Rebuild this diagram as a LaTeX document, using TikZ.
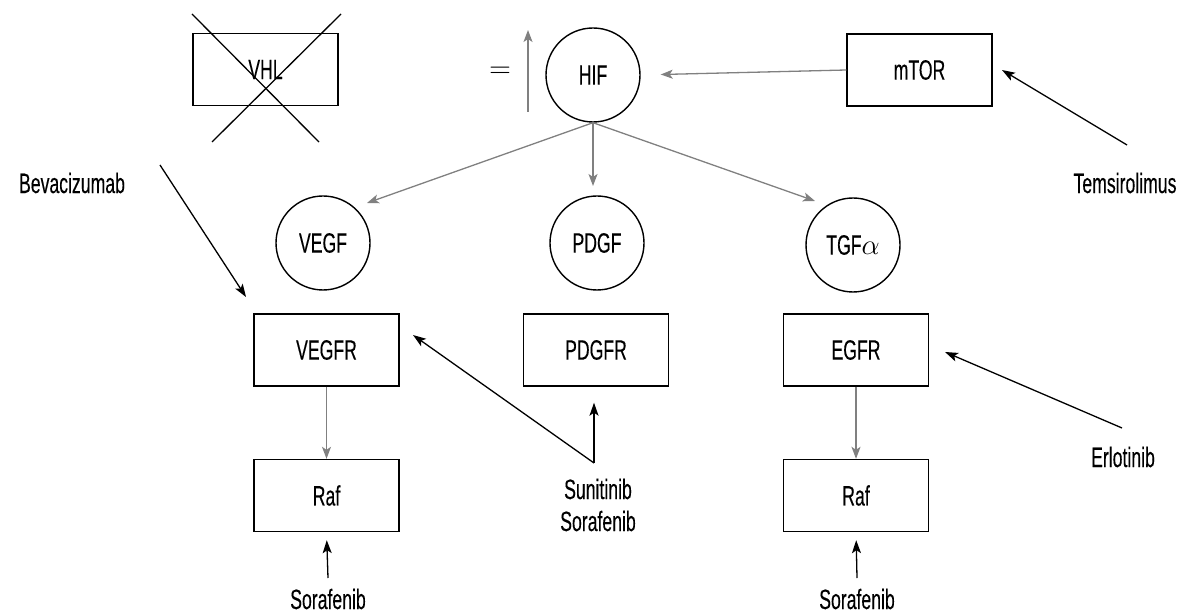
\documentclass[tikz,border=0pt]{standalone}
\usepackage{fontspec}
\setmainfont{Liberation Sans}[FakeStretch=0.63, FakeBold=0.2]
\usetikzlibrary{arrows.meta}

\tikzset{
  mol/.style = {
    circle,                          % ligand / factor
    draw          = black,           % border
    line width    = .7pt,            % border width
    minimum size  = 47pt,            % circle diameter
    inner sep     = 1pt,             %
    font          = \fontsize{14}{16}\selectfont,
    text          = black,
    fill          = white,
  },
  rcpt/.style = {
    rectangle,                       % receptor / kinase
    draw          = black,
    line width    = .7pt,
    minimum width = 72.5pt,
    minimum height= 36pt,
    inner sep     = 1pt,
    font          = \fontsize{14}{16}\selectfont,
    text          = black,
  },
  drug/.style = {
    inner sep     = 1pt,
    font          = \fontsize{14}{16}\selectfont,
    align         = center,
  },
  signal/.style  = {draw=gray, line width=.65pt, -{Stealth[length=6pt,width=4.5pt,inset=1.5pt]}},
  inhibit/.style = {draw=black, line width=.65pt, -{Stealth[length=6.5pt,width=4.5pt,inset=1.5pt]}},
}

\begin{document}
\begin{tikzpicture}[x=.5pt, y=-.5pt]
\useasboundingbox (0,0) rectangle (1181,614);

% top row
\node at (265.5, 69.5) [rcpt] (vhl)  {VHL};
\draw [line width=.65pt] (192,14) -- (319,142);
\draw [line width=.65pt] (341,14) -- (212,142);
\node at (500, 72) [inner sep=0pt, font=\fontsize{14}{14}\selectfont] (eq) {$=$};
\coordinate (up-lo) at (528,112);
\coordinate (up-hi) at (528,30);
\draw [signal] (up-lo) -- (up-hi);
\node at (593, 75)    [mol]  (hif)  {HIF};
\node at (919.5, 70)  [rcpt] (mtor) {mTOR};
\draw [signal, shorten >=10pt] (mtor.west) -- (hif.east);

% ligands
\node at (323, 243)   [mol]  (vegf) {VEGF};
\node at (597, 243)   [mol]  (pdgf) {PDGF};
\node at (853, 245)   [mol]  (tgfa) {TGF$\alpha$};
\coordinate (vegf-in) at (367,203);
\coordinate (pdgf-in) at (593,186);
\coordinate (tgfa-in) at (815,201);
\draw [signal] (hif.south) -- (vegf-in);
\draw [signal] (hif.south) -- (pdgf-in);
\draw [signal] (hif.south) -- (tgfa-in);

% receptors
\node at (326.5, 350) [rcpt] (vegfr) {VEGFR};
\node at (596, 350)   [rcpt] (pdgfr) {PDGFR};
\node at (856, 350)   [rcpt] (egfr)  {EGFR};
\node at (326.5, 495.5) [rcpt] (raf1) {Raf};
\node at (856, 495.5)   [rcpt] (raf2) {Raf};
\draw [signal] (vegfr) -- (raf1);
\draw [signal] (egfr)  -- (raf2);

% drugs
\node at (1125, 183) [drug] (temsi) {Temsirolimus};
\coordinate (temsi-out) at (1127,145);
\coordinate (mtor-in)   at (1002,70);
\draw [inhibit] (temsi-out) -- (mtor-in);

\node at (72, 183) [drug] (bev) {Bevacizumab};
\coordinate (bev-out) at (160,165);
\coordinate (bev-in)  at (246,297);
\draw [inhibit] (bev-out) -- (bev-in);

\node at (598, 505) [drug] (suni) {Sunitinib\\Sorafenib};
\coordinate (fork)     at (594,463);
\coordinate (vegfr-in) at (413,335);
\draw [inhibit] (fork) -- (vegfr-in);
\draw [inhibit, shorten >=8pt] (fork) -- (fork |- pdgfr.south);

\node at (1123, 457) [drug] (erlo) {Erlotinib};
\coordinate (erlo-out) at (1122,428);
\coordinate (egfr-in)  at (945,352);
\draw [inhibit] (erlo-out) -- (egfr-in);

\node at (328, 599) [drug] (sora1) {Sorafenib};
\node at (857, 599) [drug] (sora2) {Sorafenib};
\coordinate (sora1-out) at (328,578);
\coordinate (sora2-out) at (857,578);
\draw [inhibit, shorten >=4pt] (sora1-out) -- (raf1.south);
\draw [inhibit, shorten >=4pt] (sora2-out) -- (raf2.south);
\end{tikzpicture}
\end{document}
